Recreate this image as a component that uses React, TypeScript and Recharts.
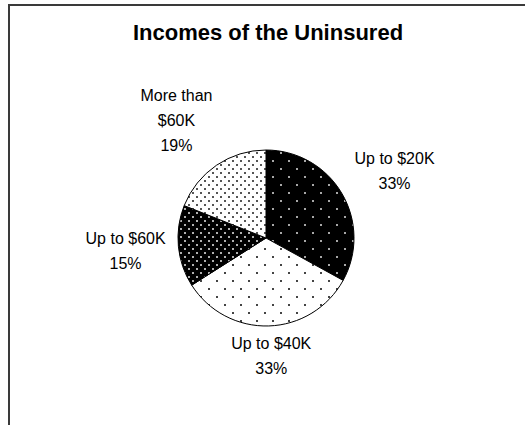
import React from 'react';
import { PieChart, Pie, Cell } from 'recharts';

const categories = ['Up to $20K', 'Up to $40K', 'Up to $60K', 'More than $60K'];
const shares = [33, 33, 15, 19];
const fills = ['sparseOnBlack', 'sparseOnWhite', 'denseOnBlack', 'denseOnWhite'];

const data = categories.map((name, i) => ({ name, value: shares[i] }));

const RADIAN = Math.PI / 180;
const FONT = 16;
const LINE = 25;
const FAMILY = "Arial, 'Liberation Sans', sans-serif";

// long names break onto two lines like the original
const wrap = (name: string) => {
  if (name.length <= 11) return [name];
  const cut = name.lastIndexOf(' ');
  return [name.slice(0, cut), name.slice(cut + 1)];
};

const clamp = (v: number) => Math.max(-1.2, Math.min(1.2, v));

// label box sits just outside the slice edge, pushed away from the pie
const renderLabel = (props: any) => {
  const { cx, cy, midAngle, outerRadius, name, value } = props;
  const lines = [...wrap(name), `${value}%`];
  const ux = Math.cos(-midAngle * RADIAN);
  const uy = Math.sin(-midAngle * RADIAN);
  const w = Math.max(...lines.map((l) => l.length)) * FONT * 0.55;
  const h = lines.length * LINE;
  const x = cx + ux * outerRadius + (clamp(ux * 1.8) * w) / 2;
  const top = cy + uy * outerRadius + (clamp(uy * 1.8) * h) / 2 - h / 2;
  return (
    <text x={x} y={top} textAnchor="middle" fontFamily={FAMILY} fontSize={FONT} fill="#000">
      {lines.map((l, i) => (
        <tspan key={i} x={x} y={top + LINE * i + LINE / 2 + FONT * 0.36}>
          {l}
        </tspan>
      ))}
    </text>
  );
};

const Dots = ({ id, size, bg, dot }: { id: string; size: number; bg: string; dot: string }) => (
  <pattern id={id} width={size} height={size} patternUnits="userSpaceOnUse">
    <rect width={size} height={size} fill={bg} />
    <rect x={0} y={0} width={2} height={2} fill={dot} />
    <rect x={size / 2} y={size / 2} width={2} height={2} fill={dot} />
  </pattern>
);

export default function App() {
  return (
    <div style={{ position: 'absolute', left: 0, top: 0, width: 525, height: 425, overflow: 'hidden', background: '#fff' }}>
      <div
        style={{
          position: 'absolute',
          left: 8,
          top: 4,
          width: 600,
          height: 600,
          borderTop: '2px solid #3a3a3a',
          borderLeft: '2px solid #3a3a3a',
        }}
      />
      <div style={{ position: 'absolute', left: 0, top: 0 }}>
        <PieChart width={525} height={425} margin={{ top: 0, right: 0, bottom: 0, left: 0 }}>
          <defs>
            <Dots id="sparseOnBlack" size={16} bg="#000" dot="#a8a8a8" />
            <Dots id="sparseOnWhite" size={16} bg="#fff" dot="#444" />
            <Dots id="denseOnBlack" size={8} bg="#000" dot="#b0b0b0" />
            <Dots id="denseOnWhite" size={8} bg="#fff" dot="#555" />
          </defs>
          <text
            x={268}
            y={40}
            textAnchor="middle"
            fontFamily={FAMILY}
            fontWeight="bold"
            fontSize={22}
            fill="#000"
          >
            Incomes of the Uninsured
          </text>
          <Pie
            data={data}
            dataKey="value"
            nameKey="name"
            cx={266}
            cy={238}
            outerRadius={88}
            startAngle={90}
            endAngle={-270}
            stroke="#000"
            strokeWidth={1}
            label={renderLabel}
            labelLine={false}
            isAnimationActive={false}
          >
            {data.map((d, i) => (
              <Cell key={d.name} fill={`url(#${fills[i]})`} />
            ))}
          </Pie>
        </PieChart>
      </div>
    </div>
  );
}
